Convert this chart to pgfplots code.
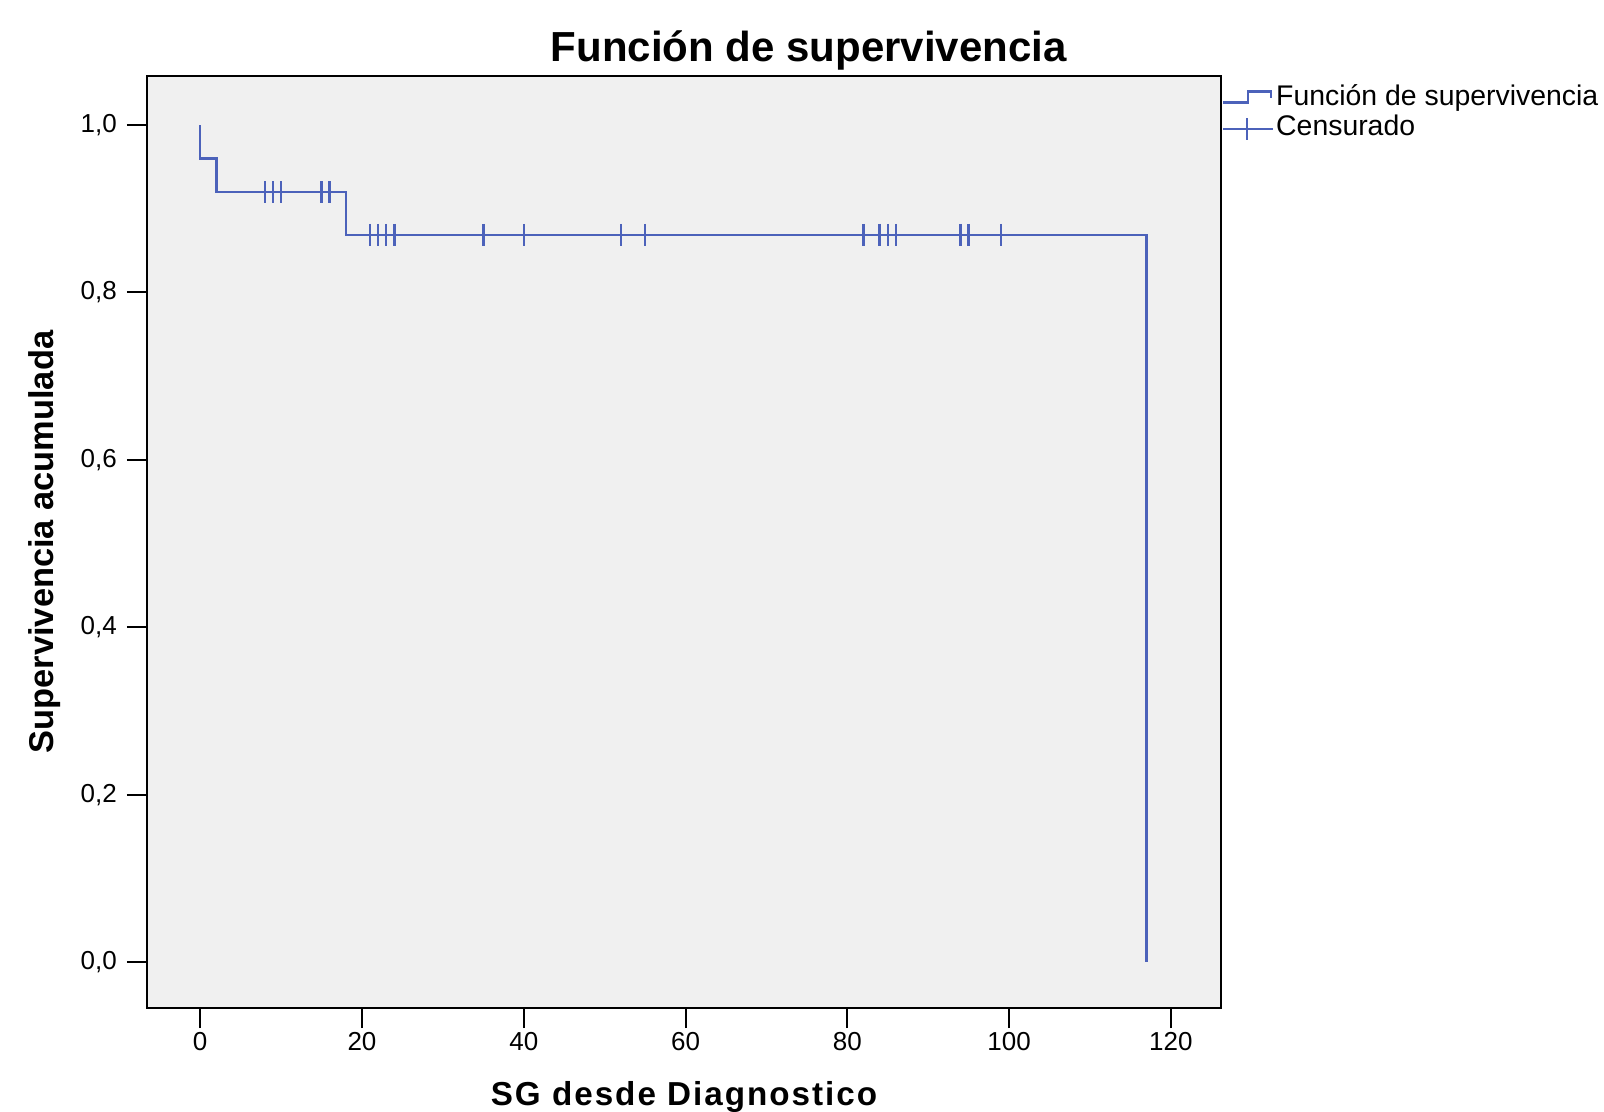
\documentclass[border=0pt]{standalone}
\usepackage{fontspec}
\setmainfont{Liberation Sans}
\newfontfamily\trackedfont[LetterSpace=6]{Liberation Sans}
\usepackage{pgfplots}
\pgfplotsset{compat=1.18}
\definecolor{kmblue}{RGB}{76,98,186}
\definecolor{panel}{RGB}{240,240,240}

\begin{document}
\begin{tikzpicture}
\fill[white] (-36.75pt,-26pt) rectangle (364.25pt,252pt);
\begin{axis}[
    at={(0,0)}, anchor=south west,
    scale only axis,
    width=268.5pt, height=233pt,
    xmin=-6.58, xmax=126.2,
    ymin=-0.055, ymax=1.0587,
    xtick={0,20,40,60,80,100,120},
    ytick={0,0.2,0.4,0.6,0.8,1},
    tick pos=left,
    tick align=outside,
    major tick length=5pt,
    tick style={black, line width=0.5pt},
    axis line style={black, line width=0.6pt},
    axis background/.style={fill=panel},
    /pgf/number format/assume math mode=true,
    ticklabel style={font=\fontsize{6.5}{7}\selectfont},
    xticklabel style={yshift=2.4pt},
    yticklabel style={xshift=1pt, /pgf/number format/.cd, fixed, fixed zerofill, precision=1, use comma},
    title={Función de supervivencia},
    title style={at={(0.616,0.9893)}, anchor=base, yshift=0pt, font=\bfseries\fontsize{10.5}{12}\selectfont},
    xlabel={SG desde Diagnostico},
    xlabel style={at={(0.5,-0.1041)}, anchor=base, yshift=0pt, font=\trackedfont\bfseries\fontsize{8.3}{10}\selectfont},
    ylabel={Supervivencia acumulada},
    ylabel style={at={(-0.095,0.5)}, anchor=center, font=\bfseries\fontsize{8.6}{10}\selectfont},
    legend style={at={(1,0.9967)}, anchor=north west, draw=none, fill=none,
        inner xsep=0pt, inner ysep=1pt, row sep=0pt,
        font=\fontsize{7.1}{8}\selectfont,
        nodes={inner sep=0.5pt, text height=5pt, text depth=1.5pt}},
    legend cell align=left,
]
% Kaplan-Meier step curve
\addplot[kmblue, line width=0.6pt,
    legend image code/.code={
        \draw[kmblue, line width=0.6pt] (0pt,-0.9pt) -- (6.25pt,-0.9pt) -- (6.25pt,1.85pt) -- (12pt,1.85pt) -- (12pt,0.1pt);}]
    coordinates {
    (0,1.0) (0,0.96) (2,0.96) (2,0.92) (18,0.92) (18,0.8689)
    (117,0.8689) (117,0)
    };
\addlegendentry{Función de supervivencia}
% censored observations
\addplot[kmblue, only marks, mark=|, mark size=2.75pt, mark options={line width=0.6pt},
    legend image code/.code={
        \draw[kmblue, line width=0.6pt] (0pt,0pt) -- (12.5pt,0pt);
        \draw[kmblue, line width=0.6pt] (6pt,-2.75pt) -- (6pt,2.75pt);}]
    coordinates {
    (8,0.92) (9,0.92) (10,0.92) (15,0.92) (16,0.92)
    (21,0.8689) (22,0.8689) (23,0.8689) (24,0.8689)
    (35,0.8689) (40,0.8689) (52,0.8689) (55,0.8689)
    (82,0.8689) (84,0.8689) (85,0.8689) (86,0.8689)
    (94,0.8689) (95,0.8689) (99,0.8689)
    };
\addlegendentry{Censurado}
\end{axis}
\pgfresetboundingbox
\useasboundingbox (-36.75pt,-26pt) rectangle (364.25pt,252pt);
\end{tikzpicture}
\end{document}
